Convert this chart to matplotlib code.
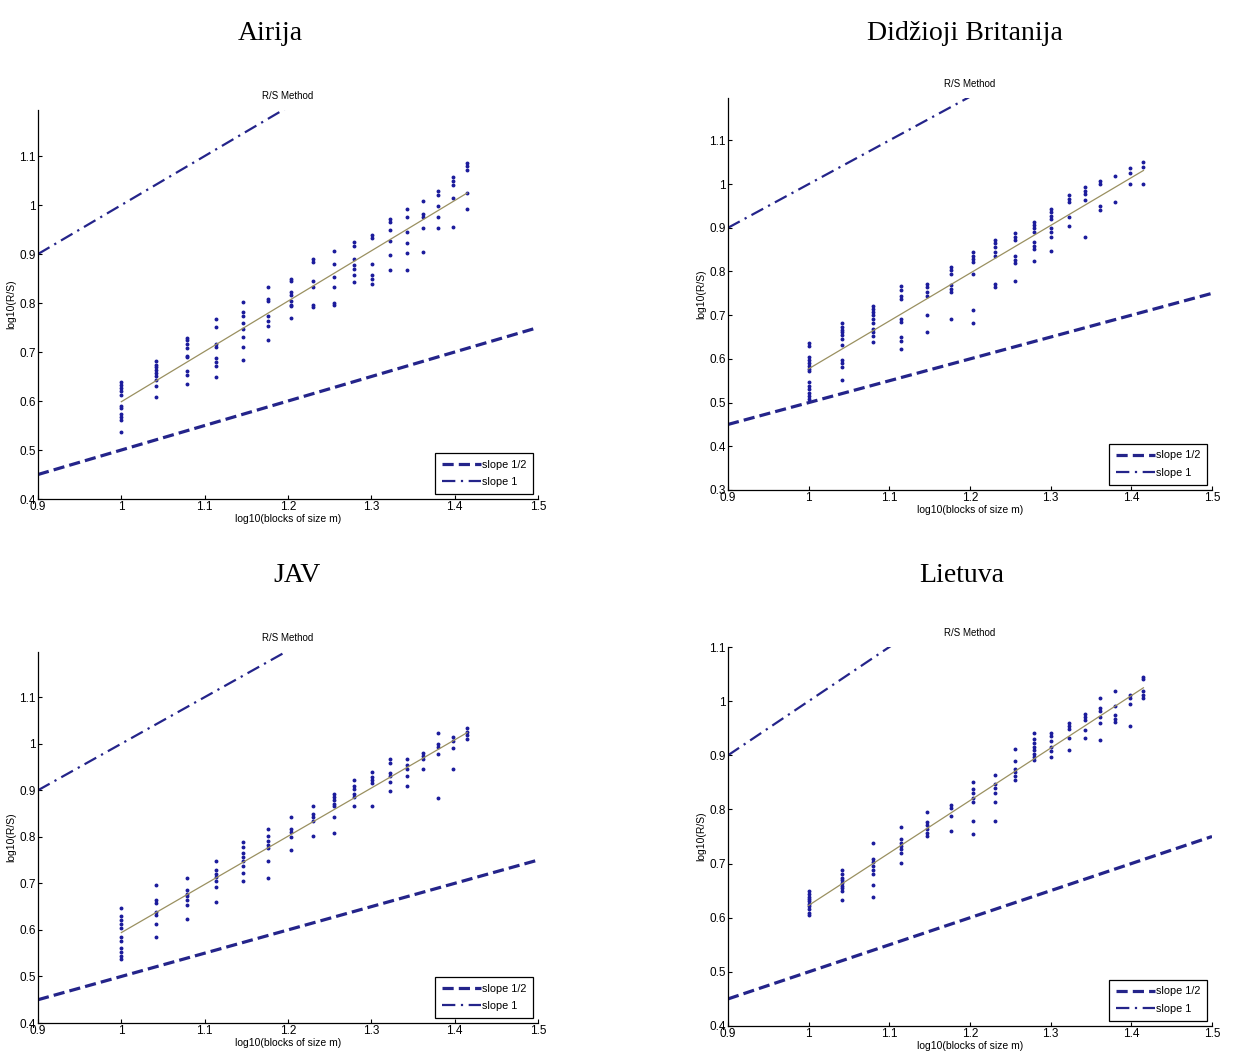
import numpy as np
import matplotlib.pyplot as plt
from matplotlib.ticker import FixedLocator, FormatStrFormatter

# block sizes m = 10..26, x axis is log10(m)
block_sizes = [10, 11, 12, 13, 14, 15, 16, 17, 18, 19, 20, 21, 22, 23, 24, 25, 26]
countries = ["Airija", "Didžioji Britanija", "JAV", "Lietuva"]

# log10(R/S) values for each block size (one list per column)
airija = [
    [0.638, 0.632, 0.626, 0.621, 0.612, 0.590, 0.585, 0.573, 0.568, 0.561, 0.537],
    [0.682, 0.674, 0.669, 0.663, 0.657, 0.651, 0.642, 0.631, 0.608],
    [0.729, 0.724, 0.716, 0.708, 0.691, 0.689, 0.662, 0.653, 0.635],
    [0.768, 0.751, 0.716, 0.711, 0.688, 0.679, 0.672, 0.650],
    [0.803, 0.781, 0.773, 0.760, 0.747, 0.731, 0.711, 0.684],
    [0.833, 0.809, 0.804, 0.774, 0.763, 0.754, 0.725],
    [0.850, 0.845, 0.823, 0.817, 0.804, 0.797, 0.794, 0.770],
    [0.890, 0.884, 0.845, 0.832, 0.797, 0.792],
    [0.906, 0.879, 0.854, 0.832, 0.801, 0.796],
    [0.924, 0.917, 0.890, 0.877, 0.869, 0.857, 0.843],
    [0.939, 0.933, 0.879, 0.857, 0.850, 0.839],
    [0.972, 0.965, 0.949, 0.926, 0.898, 0.868],
    [0.992, 0.975, 0.946, 0.922, 0.903, 0.868],
    [1.009, 0.982, 0.975, 0.953, 0.905],
    [1.028, 1.021, 0.999, 0.975, 0.953],
    [1.057, 1.050, 1.041, 1.014, 0.956],
    [1.086, 1.079, 1.071, 1.025, 0.991],
]
britanija = [
    [0.636, 0.630, 0.604, 0.598, 0.591, 0.584, 0.578, 0.573, 0.548, 0.539, 0.530, 0.522, 0.516, 0.508],
    [0.682, 0.674, 0.667, 0.661, 0.655, 0.645, 0.632, 0.598, 0.591, 0.581, 0.552],
    [0.720, 0.714, 0.708, 0.700, 0.691, 0.682, 0.668, 0.661, 0.652, 0.639],
    [0.766, 0.758, 0.743, 0.737, 0.691, 0.684, 0.649, 0.642, 0.623],
    [0.771, 0.765, 0.752, 0.745, 0.700, 0.661],
    [0.810, 0.804, 0.794, 0.768, 0.760, 0.752, 0.691],
    [0.844, 0.836, 0.829, 0.821, 0.794, 0.713, 0.682],
    [0.873, 0.865, 0.855, 0.844, 0.835, 0.771, 0.764],
    [0.888, 0.880, 0.873, 0.835, 0.827, 0.819, 0.779],
    [0.914, 0.906, 0.899, 0.890, 0.868, 0.859, 0.852, 0.825],
    [0.943, 0.935, 0.928, 0.920, 0.899, 0.890, 0.880, 0.848],
    [0.974, 0.966, 0.960, 0.924, 0.903],
    [0.993, 0.985, 0.977, 0.964, 0.879],
    [1.008, 1.000, 0.949, 0.941],
    [1.018, 0.960],
    [1.036, 1.026, 1.000],
    [1.051, 1.038, 1.000],
]
jav = [
    [0.648, 0.629, 0.621, 0.613, 0.605, 0.585, 0.576, 0.562, 0.552, 0.545, 0.538],
    [0.696, 0.665, 0.658, 0.639, 0.631, 0.613, 0.585],
    [0.711, 0.686, 0.678, 0.673, 0.665, 0.653, 0.624],
    [0.747, 0.729, 0.720, 0.713, 0.704, 0.693, 0.660],
    [0.788, 0.779, 0.765, 0.756, 0.749, 0.737, 0.722, 0.704],
    [0.817, 0.801, 0.792, 0.783, 0.776, 0.747, 0.711],
    [0.843, 0.817, 0.810, 0.799, 0.771],
    [0.866, 0.850, 0.843, 0.833, 0.801],
    [0.893, 0.886, 0.879, 0.871, 0.866, 0.843, 0.808],
    [0.923, 0.910, 0.902, 0.893, 0.886, 0.867],
    [0.939, 0.929, 0.922, 0.915, 0.867],
    [0.967, 0.958, 0.938, 0.931, 0.918, 0.898],
    [0.968, 0.954, 0.945, 0.931, 0.910],
    [0.981, 0.974, 0.967, 0.945],
    [1.024, 0.999, 0.992, 0.977, 0.884],
    [1.014, 1.006, 0.990, 0.946],
    [1.033, 1.026, 1.019, 1.011],
]
lietuva = [
    [0.649, 0.644, 0.639, 0.634, 0.630, 0.626, 0.621, 0.616, 0.609, 0.605],
    [0.688, 0.680, 0.673, 0.669, 0.664, 0.659, 0.655, 0.649, 0.632],
    [0.738, 0.709, 0.702, 0.695, 0.688, 0.680, 0.661, 0.639],
    [0.768, 0.745, 0.738, 0.732, 0.726, 0.720, 0.701],
    [0.795, 0.777, 0.771, 0.764, 0.757, 0.751],
    [0.808, 0.802, 0.787, 0.760],
    [0.851, 0.838, 0.830, 0.822, 0.813, 0.779, 0.754],
    [0.864, 0.847, 0.839, 0.831, 0.813, 0.779],
    [0.911, 0.890, 0.875, 0.869, 0.862, 0.855],
    [0.942, 0.931, 0.923, 0.915, 0.909, 0.903, 0.896, 0.892],
    [0.942, 0.936, 0.926, 0.915, 0.907, 0.896],
    [0.960, 0.954, 0.949, 0.932, 0.909],
    [0.977, 0.971, 0.965, 0.946, 0.932],
    [1.005, 0.988, 0.981, 0.971, 0.959, 0.929],
    [1.019, 0.991, 0.975, 0.967, 0.962],
    [1.011, 1.006, 0.994, 0.954],
    [1.045, 1.041, 1.019, 1.012, 1.006],
]
all_data = [airija, britanija, jav, lietuva]
y_bottoms = [0.4, 0.3, 0.4, 0.4]
y_tops = [1.194, 1.197, 1.197, 1.1]

ref_x = [0.9, 1.5]
x_ticks = [0.9, 1.0, 1.1, 1.2, 1.3, 1.4, 1.5]

W, H = 1234, 1059
fig = plt.figure(figsize=(W / 100, H / 100), dpi=100)

# axes boxes in pixels: left, right, top, bottom
boxes = [(38, 538, 110, 499), (728, 1212, 98, 490),
         (38, 538, 652, 1023), (728, 1212, 647, 1026)]
title_pos = [(270, 33), (965, 33), (297, 576), (962, 576)]

navy = "#24248a"
dot_col = "#1c1c9c"
fit_col = "#9a9060"

for k in range(4):
    l, r, t, b = boxes[k]
    ax = fig.add_axes([l / W, 1 - b / H, (r - l) / W, (b - t) / H])
    data = all_data[k]

    xs, ys = [], []
    for m, col in zip(block_sizes, data):
        for v in col:
            xs.append(np.log10(m))
            ys.append(v)
    xs = np.array(xs)
    ys = np.array(ys)

    ax.plot(xs, ys, ".", color=dot_col, markersize=3.6, zorder=3)

    # least squares fit
    p = np.polyfit(xs, ys, 1)
    fx = np.array([np.log10(block_sizes[0]), np.log10(block_sizes[-1])])
    ax.plot(fx, np.polyval(p, fx), color=fit_col, lw=0.9, zorder=4)

    rx = np.array(ref_x)
    ax.plot(rx, 0.5 * rx, color=navy, lw=2.3, dashes=(3.5, 1.6), label="slope 1/2")
    ax.plot(rx, rx, color=navy, lw=1.6, dashes=(6, 2.5, 1, 2.5), label="slope 1")

    ax.set_xlim(0.9, 1.5)
    ax.set_ylim(y_bottoms[k], y_tops[k])
    ax.xaxis.set_major_locator(FixedLocator(x_ticks))
    yt = np.arange(y_bottoms[k], y_tops[k] + 0.001, 0.1)
    ax.yaxis.set_major_locator(FixedLocator(yt))
    ax.xaxis.set_major_formatter(FormatStrFormatter("%g"))
    ax.yaxis.set_major_formatter(FormatStrFormatter("%g"))
    ax.tick_params(direction="in", length=3, labelsize=8.5, width=0.8, pad=1.5)
    for lab in ax.get_xticklabels() + ax.get_yticklabels():
        lab.set_family("Liberation Sans")
    ax.spines["top"].set_visible(False)
    ax.spines["right"].set_visible(False)
    ax.spines["left"].set_linewidth(0.9)
    ax.spines["bottom"].set_linewidth(0.9)

    ax.set_title("R/S Method", fontsize=7, family="Liberation Sans", pad=8)
    ax.set_xlabel("log10(blocks of size m)", fontsize=7.5, family="Liberation Sans", labelpad=1)
    ax.set_ylabel("log10(R/S)", fontsize=7.5, family="Liberation Sans", labelpad=2)

    leg = ax.legend(loc="lower right", fancybox=False, edgecolor="black",
                    framealpha=1, handlelength=3.6, handletextpad=0.1,
                    borderpad=0.6, labelspacing=0.7, borderaxespad=0.5,
                    prop={"family": "Liberation Sans", "size": 7.8})
    leg.get_frame().set_linewidth(0.9)

    tx, ty = title_pos[k]
    fig.text(tx / W, 1 - ty / H, countries[k], ha="center", va="center",
             fontsize=20, family="Liberation Serif")

fig.savefig("out.png", dpi=100)
